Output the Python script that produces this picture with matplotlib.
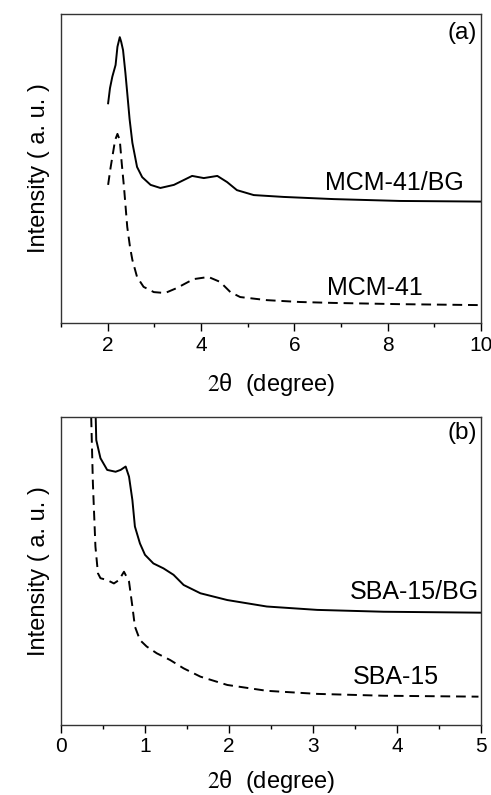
import matplotlib
matplotlib.use('Agg')
import matplotlib.pyplot as plt
from matplotlib.ticker import MultipleLocator

plt.rcParams['font.family'] = ['Liberation Sans', 'DejaVu Sans']
plt.rcParams['mathtext.fontset'] = 'stix'

# (a) MCM-41 samples, intensity in arbitrary units
mcm_bg_x = [2.01, 2.05, 2.10, 2.17, 2.21, 2.26, 2.29, 2.33, 2.38, 2.42, 2.47, 2.53, 2.63,
            2.74, 2.92, 3.13, 3.42, 3.81, 4.06, 4.35, 4.56, 4.77, 5.13, 5.77, 6.84, 8.26, 9.98]
mcm_bg_y = [71.1, 76.0, 79.7, 83.5, 89.4, 92.5, 91.0, 88.3, 81.0, 74.4, 66.0, 58.3, 50.5,
            47.2, 44.7, 43.7, 44.7, 47.6, 46.9, 47.6, 45.6, 43.0, 41.4, 40.8, 40.1, 39.5, 39.3]
mcm_x = [2.01, 2.06, 2.10, 2.16, 2.21, 2.26, 2.30, 2.35, 2.42, 2.48, 2.53, 2.63, 2.77, 2.99,
         3.23, 3.48, 3.84, 4.16, 4.41, 4.63, 4.84, 5.41, 6.12, 6.84, 8.26, 9.94]
mcm_y = [44.7, 50.0, 53.7, 59.2, 61.2, 59.2, 52.0, 44.0, 31.1, 24.5, 20.4, 14.9, 11.7, 10.0,
         9.7, 11.3, 14.2, 14.9, 13.3, 10.0, 8.4, 7.4, 6.8, 6.5, 6.1, 5.8]

# (b) SBA-15 samples
sba_bg_x = [0.40, 0.42, 0.47, 0.55, 0.65, 0.71, 0.77, 0.81, 0.85, 0.88, 0.94, 1.00, 1.10,
            1.22, 1.34, 1.46, 1.66, 1.98, 2.45, 3.05, 3.84, 4.99]
sba_bg_y = [115.0, 92.6, 86.7, 82.9, 82.3, 82.9, 84.0, 80.7, 73.1, 64.5, 59.0, 55.3, 52.5,
            50.9, 48.8, 45.5, 42.8, 40.6, 38.5, 37.4, 36.8, 36.5]
sba_x = [0.355, 0.38, 0.41, 0.44, 0.47, 0.55, 0.63, 0.69, 0.75, 0.81, 0.85, 0.88, 0.94,
         1.02, 1.14, 1.30, 1.46, 1.66, 1.98, 2.45, 3.05, 3.84, 4.97]
sba_y = [105.0, 78.5, 58.0, 49.3, 47.7, 47.1, 46.0, 47.1, 49.8, 46.6, 38.5, 32.0, 27.6,
         25.5, 23.3, 21.1, 18.4, 15.7, 13.0, 11.1, 10.1, 9.5, 9.2]

fig = plt.figure(figsize=(4.91, 7.95), dpi=100)
ax1 = fig.add_axes([0.1242, 0.5937, 0.8554, 0.3887])
ax2 = fig.add_axes([0.1242, 0.0881, 0.8554, 0.3870])

ax1.plot(mcm_bg_x, mcm_bg_y, color='black', lw=1.4)
ax1.plot(mcm_x, mcm_y, color='black', lw=1.4, linestyle=(0, (5, 3)))
ax1.set_xlim(1, 10)
ax1.set_ylim(0, 100)
ax1.xaxis.set_major_locator(MultipleLocator(2))
ax1.xaxis.set_minor_locator(MultipleLocator(1))
ax1.text(6.66, 45.3, 'MCM-41/BG', fontsize=18, ha='left', va='center')
ax1.text(6.70, 11.3, 'MCM-41', fontsize=18, ha='left', va='center')
ax1.text(0.99, 0.94, '(a)', transform=ax1.transAxes, fontsize=17.5, ha='right', va='center')

ax2.plot(sba_bg_x, sba_bg_y, color='black', lw=1.4)
ax2.plot(sba_x, sba_y, color='black', lw=1.4, linestyle=(0, (5, 3)))
ax2.set_xlim(0, 5)
ax2.set_ylim(0, 100)
ax2.xaxis.set_major_locator(MultipleLocator(1))
ax2.xaxis.set_minor_locator(MultipleLocator(0.5))
ax2.text(3.44, 43.2, 'SBA-15/BG', fontsize=18, ha='left', va='center')
ax2.text(3.47, 15.6, 'SBA-15', fontsize=18, ha='left', va='center')
ax2.text(0.99, 0.95, '(b)', transform=ax2.transAxes, fontsize=17.5, ha='right', va='center')

for ax in (ax1, ax2):
    ax.set_yticks([])
    ax.tick_params(axis='x', which='major', direction='out', length=6, width=1, labelsize=15, pad=3)
    ax.tick_params(axis='x', which='minor', direction='out', length=3, width=1)
    for sp in ax.spines.values():
        sp.set_color('#333333')
        sp.set_linewidth(1.0)
    ax.set_ylabel('Intensity ( a. u. )', fontsize=17, labelpad=8)

ax1.set_xlabel(r'$\mathrm{2}$θ  (degree)', fontsize=17, labelpad=12)
ax2.set_xlabel(r'$\mathrm{2}$θ  (degree)', fontsize=17, labelpad=8)

fig.savefig('out.png', dpi=100)
